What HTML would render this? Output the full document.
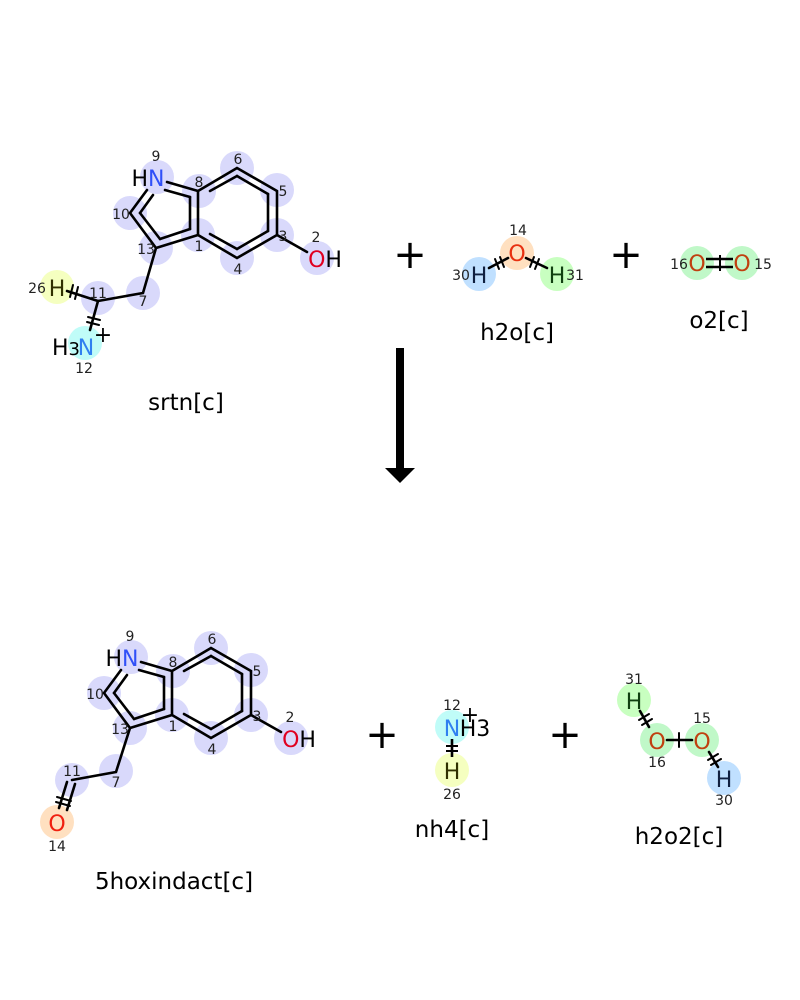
<!DOCTYPE html>
<html><head><meta charset="utf-8"><style>
html,body{margin:0;padding:0;background:#fff;}
svg{display:block}
text{font-family:"DejaVu Sans","Liberation Sans",sans-serif;}
.n{font-size:14px;fill:#222;text-anchor:middle;}
.a{font-size:22px;text-anchor:middle;}
.lbl{font-size:23px;fill:#000;text-anchor:middle;}
.pl{font-size:40px;fill:#000;text-anchor:middle;}
</style></head><body>
<svg width="800" height="1000" viewBox="0 0 800 1000" xmlns="http://www.w3.org/2000/svg">
<defs>
<g id="ring">
  <g fill="#d9d9fb">
    <circle cx="157" cy="177" r="17"/><circle cx="199" cy="191" r="17"/>
    <circle cx="237" cy="168" r="17"/><circle cx="277" cy="190" r="17"/>
    <circle cx="277" cy="235" r="17"/><circle cx="237" cy="258" r="17"/>
    <circle cx="198" cy="235" r="17"/><circle cx="130" cy="213" r="17"/>
    <circle cx="156" cy="248" r="17"/><circle cx="317" cy="258" r="17"/>
  </g>
  <g stroke="#000" stroke-width="2.6" fill="none" stroke-linecap="round">
    <polyline points="198,191 237,168 277,191 277,235 237,258 198,235 198,191"/>
    <line x1="210" y1="191" x2="237" y2="176"/>
    <line x1="237" y1="176" x2="268" y2="194"/>
    <line x1="268" y1="194" x2="268" y2="231"/>
    <line x1="268" y1="231" x2="237" y2="249"/>
    <line x1="237" y1="249" x2="210" y2="234"/>
    <line x1="167" y1="182" x2="198" y2="191"/>
    <line x1="198" y1="235" x2="156" y2="248"/>
    <line x1="156" y1="248" x2="130" y2="213"/>
    <line x1="130" y1="213" x2="147" y2="190"/>
    <line x1="165" y1="190" x2="190" y2="197"/>
    <line x1="190" y1="197" x2="190" y2="229"/>
    <line x1="190" y1="229" x2="160" y2="239"/>
    <line x1="160" y1="239" x2="140" y2="213"/>
    <line x1="140" y1="213" x2="153" y2="195"/>
    <line x1="277" y1="235" x2="307" y2="252"/>
  </g>
  <text class="a" x="148" y="186"><tspan fill="#000">H</tspan><tspan fill="#3050f8">N</tspan></text>
  <text class="a" x="325" y="267"><tspan fill="#e00020">O</tspan><tspan fill="#000">H</tspan></text>
  <g class="n">
    <text x="156" y="161">9</text><text x="199" y="187">8</text>
    <text x="238" y="164">6</text><text x="283" y="196">5</text>
    <text x="283" y="241">3</text><text x="316" y="242">2</text>
    <text x="238" y="274">4</text><text x="199" y="251">1</text>
    <text x="121" y="219">10</text><text x="146" y="254">13</text>
  </g>
</g>
</defs>

<use href="#ring"/>
<circle cx="143" cy="293" r="17" fill="#d9d9fb"/>
<circle cx="98" cy="298" r="17" fill="#d9d9fb"/>
<circle cx="57" cy="287" r="17" fill="#f5ffc0"/>
<circle cx="85" cy="343" r="17" fill="#c0fcf8"/>
<g stroke="#000" stroke-width="2.6" fill="none" stroke-linecap="round">
  <polyline points="156,248 143,293 98,301"/>
  <line x1="98" y1="301" x2="67" y2="291"/>
  <line x1="98" y1="301" x2="90" y2="330"/>
  <line x1="73" y1="285" x2="70" y2="297" stroke-width="2"/>
  <line x1="78" y1="287" x2="75" y2="299" stroke-width="2"/>
  <line x1="88" y1="317" x2="100" y2="320" stroke-width="2"/>
  <line x1="87" y1="322" x2="99" y2="325" stroke-width="2"/>
</g>
<text class="a" x="57" y="296" fill="#303000">H</text>
<text class="n" x="37" y="293">26</text>
<text class="n" x="98" y="298">11</text>
<text class="n" x="143" y="306">7</text>
<text class="a" x="66" y="355" fill="#000">H<tspan style="font-size:18px">3</tspan></text>
<text class="a" x="86" y="355" fill="#3080f0">N</text>
<text class="a" x="103" y="342" fill="#000">+</text>
<text class="n" x="84" y="373">12</text>
<text class="lbl" x="186" y="410">srtn[c]</text>

<text class="pl" x="410" y="268">+</text>
<text class="pl" x="626" y="268">+</text>
<text class="pl" x="382" y="748">+</text>
<text class="pl" x="565" y="748">+</text>

<circle cx="517" cy="253" r="17" fill="#ffe0c0"/>
<circle cx="479" cy="274" r="17" fill="#c0e0ff"/>
<circle cx="557" cy="274" r="17" fill="#c8ffc0"/>
<g stroke="#000" stroke-width="2.6" stroke-linecap="round">
  <line x1="508" y1="258" x2="489" y2="268"/>
  <line x1="526" y1="258" x2="547" y2="268"/>
  <line x1="495" y1="259" x2="499" y2="269" stroke-width="2"/>
  <line x1="500" y1="257" x2="504" y2="267" stroke-width="2"/>
  <line x1="534" y1="257" x2="530" y2="267" stroke-width="2"/>
  <line x1="539" y1="259" x2="535" y2="269" stroke-width="2"/>
</g>
<text class="a" x="517" y="261" fill="#e83010">O</text>
<text class="n" x="518" y="235">14</text>
<text class="a" x="479" y="283" fill="#102040">H</text>
<text class="n" x="461" y="280">30</text>
<text class="a" x="557" y="283" fill="#104010">H</text>
<text class="n" x="575" y="280">31</text>
<text class="lbl" x="517" y="340">h2o[c]</text>

<circle cx="697" cy="263" r="17" fill="#c0f8c8"/>
<circle cx="742" cy="263" r="17" fill="#c0f8c8"/>
<g stroke="#000" stroke-width="2.6">
  <line x1="706" y1="259" x2="733" y2="259"/>
  <line x1="706" y1="267" x2="733" y2="267"/>
  <line x1="720" y1="255" x2="720" y2="271" stroke-width="2"/>
</g>
<text class="a" x="697" y="271" fill="#c04010">O</text>
<text class="a" x="742" y="271" fill="#c04010">O</text>
<text class="n" x="679" y="269">16</text>
<text class="n" x="763" y="269">15</text>
<text class="lbl" x="719" y="328">o2[c]</text>

<rect x="396" y="348" width="8" height="121" fill="#000"/>
<polygon points="385,468 415,468 400,483" fill="#000"/>

<use href="#ring" transform="translate(-26,480)"/>
<circle cx="116" cy="771" r="17" fill="#d9d9fb"/>
<circle cx="72" cy="780" r="17" fill="#d9d9fb"/>
<circle cx="57" cy="822" r="17" fill="#ffe0c0"/>
<g stroke="#000" stroke-width="2.6" fill="none" stroke-linecap="round">
  <polyline points="130,728 116,772 72,780"/>
  <line x1="67" y1="782" x2="59" y2="808"/>
  <line x1="75" y1="784" x2="67" y2="810"/>
  <line x1="57" y1="797" x2="71" y2="801" stroke-width="2"/>
  <line x1="56" y1="802" x2="70" y2="806" stroke-width="2"/>
</g>
<text class="a" x="57" y="831" fill="#f02010">O</text>
<text class="n" x="57" y="851">14</text>
<text class="n" x="72" y="776">11</text>
<text class="n" x="116" y="787">7</text>
<text class="lbl" x="174" y="889">5hoxindact[c]</text>

<circle cx="452" cy="727" r="17" fill="#c0fcf8"/>
<circle cx="452" cy="770" r="17" fill="#f5ffc0"/>
<g stroke="#000" stroke-width="2.6">
  <line x1="452" y1="739" x2="452" y2="757"/>
  <line x1="446" y1="746" x2="458" y2="746" stroke-width="2"/>
  <line x1="446" y1="751" x2="458" y2="751" stroke-width="2"/>
</g>
<text class="a" x="452" y="736" fill="#3080f0">N</text>
<text class="a" x="475" y="736" fill="#000">H3</text>
<text class="a" x="470" y="722" fill="#000">+</text>
<text class="n" x="452" y="710">12</text>
<text class="a" x="452" y="779" fill="#303000">H</text>
<text class="n" x="452" y="799">26</text>
<text class="lbl" x="452" y="837">nh4[c]</text>

<circle cx="634" cy="700" r="17" fill="#c8ffc0"/>
<circle cx="657" cy="740" r="17" fill="#c0f8c8"/>
<circle cx="702" cy="740" r="17" fill="#c0f8c8"/>
<circle cx="724" cy="778" r="17" fill="#c0e0ff"/>
<g stroke="#000" stroke-width="2.6" stroke-linecap="round">
  <line x1="640" y1="711" x2="649" y2="727"/>
  <line x1="667" y1="740" x2="692" y2="740"/>
  <line x1="709" y1="752" x2="718" y2="767"/>
  <line x1="639" y1="720" x2="649" y2="714" stroke-width="2"/>
  <line x1="642" y1="725" x2="652" y2="719" stroke-width="2"/>
  <line x1="679" y1="733" x2="679" y2="747" stroke-width="2"/>
  <line x1="708" y1="760" x2="718" y2="754" stroke-width="2"/>
  <line x1="711" y1="765" x2="721" y2="759" stroke-width="2"/>
</g>
<text class="a" x="634" y="709" fill="#104010">H</text>
<text class="n" x="634" y="684">31</text>
<text class="a" x="657" y="749" fill="#c04010">O</text>
<text class="n" x="657" y="767">16</text>
<text class="a" x="702" y="749" fill="#c04010">O</text>
<text class="n" x="702" y="723">15</text>
<text class="a" x="724" y="787" fill="#102040">H</text>
<text class="n" x="724" y="805">30</text>
<text class="lbl" x="679" y="844">h2o2[c]</text>
</svg>
</body></html>
